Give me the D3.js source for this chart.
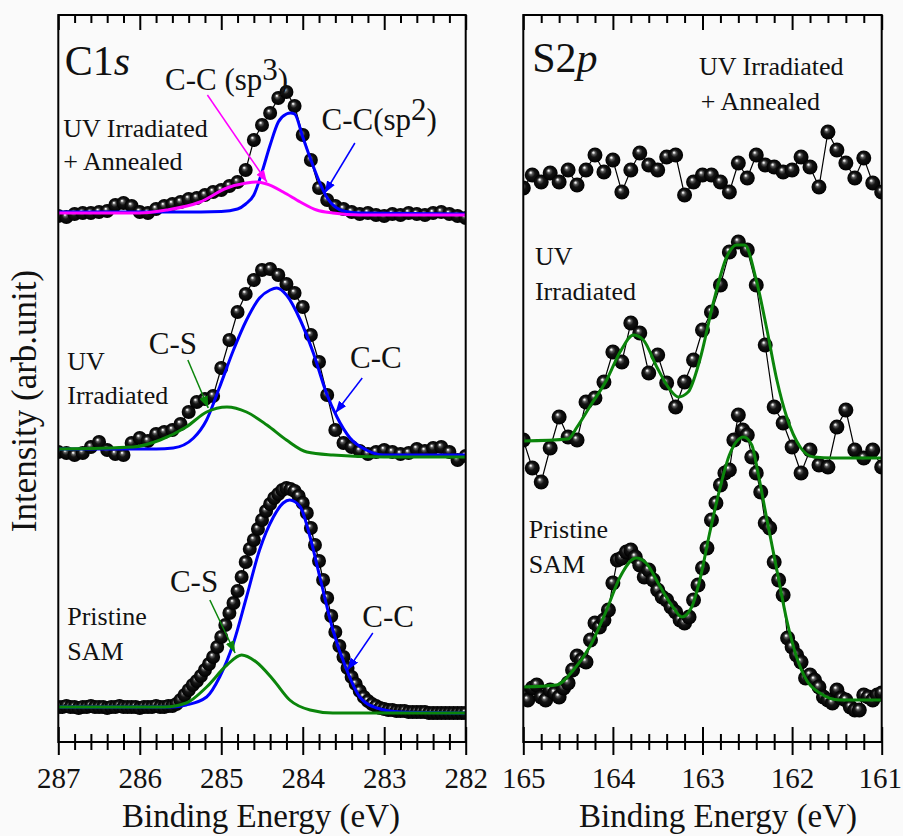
<!DOCTYPE html>
<html><head><meta charset="utf-8">
<script src="https://cdn.jsdelivr.net/npm/d3@7"></script>
<style>
html,body{margin:0;padding:0;background:#fafafa;}
svg{display:block;}
text{font-family:"Liberation Serif","Times New Roman",Times,serif;fill:#111;}
</style></head><body>
<svg id="chart" width="903" height="836"></svg>
<script>
// ---------- energy grids (eV) ----------
const c1sBECoarse = [287.0,286.9,286.8,286.7,286.6,286.5,286.4,286.3,286.2,286.1,286.0,285.9,285.8,285.7,285.6,285.5,285.4,285.3,285.2,285.1,285.0,284.9,284.8,284.7,284.6,284.5,284.4,284.3,284.2,284.1,284.0,283.9,283.8,283.7,283.6,283.5,283.4,283.3,283.2,283.1,283.0,282.9,282.8,282.7,282.6,282.5,282.4,282.3,282.2,282.1,282.0];
const c1sBEFine = [287.00,286.95,286.90,286.85,286.80,286.75,286.70,286.65,286.60,286.55,286.50,286.45,286.40,286.35,286.30,286.25,286.20,286.15,286.10,286.05,286.00,285.95,285.90,285.85,285.80,285.75,285.70,285.65,285.60,285.55,285.50,285.45,285.40,285.35,285.30,285.25,285.20,285.15,285.10,285.05,285.00,284.95,284.90,284.85,284.80,284.75,284.70,284.65,284.60,284.55,284.50,284.45,284.40,284.35,284.30,284.25,284.20,284.15,284.10,284.05,284.00,283.95,283.90,283.85,283.80,283.75,283.70,283.65,283.60,283.55,283.50,283.45,283.40,283.35,283.30,283.25,283.20,283.15,283.10,283.05,283.00,282.95,282.90,282.85,282.80,282.75,282.70,282.65,282.60,282.55,282.50,282.45,282.40,282.35,282.30,282.25,282.20,282.15,282.10,282.05,282.00];
const s2pBECoarse = [165.0,164.9,164.8,164.7,164.6,164.5,164.4,164.3,164.2,164.1,164.0,163.9,163.8,163.7,163.6,163.5,163.4,163.3,163.2,163.1,163.0,162.9,162.8,162.7,162.6,162.5,162.4,162.3,162.2,162.1,162.0,161.9,161.8,161.7,161.6,161.5,161.4,161.3,161.2,161.1,161.0];
const s2pBEFine = [165.00,164.95,164.90,164.85,164.80,164.75,164.70,164.65,164.60,164.55,164.50,164.45,164.40,164.35,164.30,164.25,164.20,164.15,164.10,164.05,164.00,163.95,163.90,163.85,163.80,163.75,163.70,163.65,163.60,163.55,163.50,163.45,163.40,163.35,163.30,163.25,163.20,163.15,163.10,163.05,163.00,162.95,162.90,162.85,162.80,162.75,162.70,162.65,162.60,162.55,162.50,162.45,162.40,162.35,162.30,162.25,162.20,162.15,162.10,162.05,162.00,161.95,161.90,161.85,161.80,161.75,161.70,161.65,161.60,161.55,161.50,161.45,161.40,161.35,161.30,161.25,161.20,161.15,161.10,161.05,161.00];

// ---------- C1s measured intensities (arb. unit, stacked) ----------
const c1sAnnealed = [52.6,52.5,52.8,52.9,52.9,53.0,53.1,53.7,53.9,53.6,
 53.0,52.9,53.3,53.6,53.8,54.0,54.3,54.4,54.7,55.0,
 55.2,55.6,56.0,57.2,60.2,61.7,62.9,64.4,65.0,63.6,
 60.7,58.2,55.4,54.2,53.6,53.3,53.0,52.8,52.9,52.7,
 52.6,52.8,52.7,52.9,52.8,52.7,52.9,53.0,52.8,52.6,
 52.4];
const c1sUV = [29.0,28.9,28.7,28.9,29.5,30.0,29.2,28.8,28.7,29.9,
 30.4,30.1,30.8,31.0,31.2,31.8,33.0,34.0,34.3,34.6,
 37.4,40.2,43.0,44.8,46.2,47.2,47.3,46.7,45.8,44.9,
 43.5,40.7,38.0,34.7,31.2,29.9,29.5,29.1,28.8,29.0,
 29.2,29.0,28.8,28.9,29.3,29.1,29.4,29.5,29.0,28.2,
 28.6];
const c1sPristine = [3.5,3.5,3.6,3.5,3.5,3.4,3.5,3.5,3.6,3.5,
 3.5,3.5,3.4,3.5,3.5,3.6,3.5,3.5,3.5,3.5,
 3.4,3.5,3.5,3.5,3.6,3.5,3.5,3.6,3.6,
 3.8,4.2,4.7,5.2,5.7,6.1,6.6,7.2,7.8,8.5,
 9.5,10.5,11.7,12.9,13.9,15.1,16.5,18.0,19.3,20.2,
 21.3,22.2,23.1,23.8,24.4,24.8,25.2,25.4,25.3,25.1,
 24.6,23.9,22.9,21.4,19.7,18.1,16.2,14.4,12.6,11.0,
 9.6,8.5,7.4,6.5,5.8,5.1,4.5,4.1,3.8,3.6,
 3.4,3.3,
 3.2,3.2,3.1,3.1,3.1,3.0,3.0,3.0,3.0,3.0,
 2.9,2.9,2.9,2.9,2.9,2.9,2.9,2.9,2.9,2.9];

// ---------- C1s fitted components [BE, intensity] ----------
const c1sAnnealedSp2 = [[287.0,53.0],[285.5,53.0],[285.0,53.05],[284.8,53.3],[284.7,53.8],[284.6,54.7],[284.5,57.0],[284.4,59.7],[284.3,62.0],[284.2,62.8],[284.15,62.9],[284.1,62.8],[284.0,60.5],[283.9,58.2],[283.8,56.1],[283.7,54.4],[283.6,53.5],[283.5,53.1],[283.3,52.9],[282.0,52.8]];
const c1sAnnealedSp3 = [[287.0,52.9],[286.0,52.9],[285.67,53.2],[285.26,54.0],[284.93,55.4],[284.69,55.9],[284.57,56.0],[284.44,55.8],[284.24,55.0],[284.03,54.0],[283.83,53.2],[283.63,52.9],[283.3,52.7],[282.0,52.7]];
const c1sUVCC = [[287.0,29.3],[285.8,29.3],[285.59,29.4],[285.34,30.4],[285.18,32.2],[285.02,35.5],[284.85,39.2],[284.69,42.2],[284.53,44.4],[284.40,45.2],[284.32,45.4],[284.20,44.7],[284.03,42.2],[283.87,38.9],[283.71,34.9],[283.58,32.5],[283.42,30.4],[283.22,29.2],[283.01,28.7],[282.0,28.7]];
const c1sUVCS = [[287.0,29.3],[286.08,29.5],[285.75,30.2],[285.43,31.5],[285.18,33.0],[284.93,33.5],[284.69,33.0],[284.44,31.7],[284.20,30.2],[283.95,29.0],[283.63,28.7],[283.0,28.5],[282.0,28.5]];
const c1sPristineCC = [[287.0,3.5],[285.6,3.5],[285.43,3.7],[285.18,4.5],[285.02,6.5],[284.85,9.9],[284.69,14.5],[284.53,19.2],[284.36,22.5],[284.24,23.9],[284.16,24.2],[284.03,23.5],[283.91,20.5],[283.79,16.5],[283.63,11.2],[283.46,7.2],[283.30,4.5],[283.09,3.4],[282.8,3.0],[282.0,2.9]];
const c1sPristineCS = [[287.0,3.5],[285.7,3.5],[285.43,3.9],[285.18,5.5],[284.93,7.7],[284.75,8.7],[284.57,8.0],[284.36,6.2],[284.16,4.2],[283.91,3.2],[283.63,2.9],[282.0,2.9]];

// ---------- S2p measured intensities ----------
const s2pAnnealed = [55.4,56.7,56.0,56.9,56.0,57.2,55.7,57.2,58.7,57.0,
 58.2,55.0,57.2,58.9,57.7,57.2,58.5,58.7,54.7,56.0,
 56.7,56.7,56.0,55.0,57.9,56.4,58.7,57.7,57.5,57.0,
 57.2,58.5,57.5,55.5,61.0,59.2,57.9,56.4,58.4,55.9,
 55.0];
const s2pUV = [30.2,27.4,26.0,29.4,32.5,30.5,30.2,34.0,34.4,36.0,
 39.0,38.0,41.9,40.9,36.9,38.7,35.9,33.5,36.0,38.2,
 41.2,43.0,45.7,49.0,50.0,49.2,45.7,39.7,33.5,31.9,
 29.5,26.9,29.2,27.7,27.5,31.5,33.2,29.2,28.4,29.2,
 27.5];
const s2pPristine = [4.7,4.2,5.4,5.7,4.5,4.2,5.2,4.9,4.5,5.4,
 5.9,7.2,8.6,8.2,8.0,10.2,11.9,11.5,12.2,13.2,
 15.9,18.2,18.4,19.0,19.2,18.5,17.7,16.5,17.2,16.2,
 15.2,14.5,14.2,13.5,13.0,12.2,11.9,12.5,14.2,15.7,
 17.4,19.4,22.2,23.9,25.7,26.9,27.2,30.2,32.7,31.2,
 30.7,28.5,26.9,25.0,21.9,21.4,18.0,16.2,14.7,10.4,
 9.5,8.7,8.0,6.4,6.7,6.2,5.5,4.5,4.2,3.9,
 5.2,4.4,4.2,3.5,3.2,3.2,4.7,4.5,4.2,4.7,
 4.9];
const s2pUVFit = [[165.0,30.1],[164.5,30.3],[164.4,31.5],[164.26,33.5],[164.07,36.2],[163.92,39.0],[163.77,40.7],[163.66,40.2],[163.51,37.5],[163.36,35.2],[163.27,34.5],[163.16,35.0],[163.03,38.2],[162.88,43.9],[162.73,48.5],[162.62,49.7],[162.53,49.7],[162.40,46.2],[162.28,41.2],[162.17,36.2],[162.06,32.5],[161.91,29.5],[161.76,28.5],[161.54,28.4],[161.0,28.4]];
const s2pPristineFit = [[165.0,5.5],[164.63,5.7],[164.44,7.2],[164.26,9.5],[164.07,13.2],[163.92,16.5],[163.74,18.4],[163.63,17.9],[163.47,15.5],[163.33,13.5],[163.23,12.5],[163.12,13.5],[163.03,16.2],[162.92,20.9],[162.81,25.2],[162.70,28.7],[162.54,30.5],[162.45,29.7],[162.38,26.9],[162.28,22.2],[162.17,17.2],[162.06,12.2],[161.95,8.5],[161.84,6.2],[161.69,4.9],[161.47,4.2],[161.0,4.2]];

// ---------- ticks ----------
const c1sTicks = [287,286,285,284,283,282];
const s2pTicks = [165,164,163,162,161];
const minorStep = 0.2;

// ---------- text ----------
const xTitle = "Binding Energy (eV)";
const yTitle = "Intensity (arb.unit)";

const BLUE = "#0000ff", GREEN = "#0b850b", MAGENTA = "#ff00ff";

const svg = d3.select("#chart");
const plotTop = 15, plotBottom = 742;
const y = d3.scaleLinear().domain([0, 72.7]).range([plotBottom, plotTop]);
const xL = d3.scaleLinear().domain([287, 282]).range([58.3, 465.7]);
const xR = d3.scaleLinear().domain([165, 161]).range([523.3, 881.7]);

const defs = svg.append("defs");
const grad = defs.append("radialGradient").attr("id", "ball")
  .attr("cx", "50%").attr("cy", "50%").attr("r", "50%").attr("fx", "38%").attr("fy", "32%");
[[0, "#ffffff"], [0.09, "#e4e4e4"], [0.24, "#5c5c5c"], [0.48, "#141414"], [1, "#000000"]]
  .forEach(([o, c]) => grad.append("stop").attr("offset", o).attr("stop-color", c));
[["mBlue", BLUE], ["mGreen", GREEN], ["mMag", MAGENTA]].forEach(([id, c]) => {
  defs.append("marker").attr("id", id).attr("markerUnits", "userSpaceOnUse")
    .attr("markerWidth", 14).attr("markerHeight", 10).attr("refX", 12).attr("refY", 4.5)
    .attr("orient", "auto").append("path").attr("d", "M0,0L12,4.5L0,9Z").attr("fill", c);
});
function clipFor(id, x) {
  const r = x.range();
  defs.append("clipPath").attr("id", id).append("rect")
    .attr("x", r[0]).attr("y", plotTop).attr("width", r[1] - r[0]).attr("height", plotBottom - plotTop);
}
clipFor("clipL", xL); clipFor("clipR", xR);

function spectrum(g, x, be, vals, r) {
  const pts = be.map((b, i) => [b, vals[i]]);
  g.append("path").datum(pts)
    .attr("d", d3.line().x(d => x(d[0])).y(d => y(d[1])))
    .attr("fill", "none").attr("stroke", "#000").attr("stroke-width", 1.2);
  g.append("g").selectAll("circle").data(pts).join("circle")
    .attr("cx", d => x(d[0])).attr("cy", d => y(d[1])).attr("r", r).attr("fill", "url(#ball)");
}
function fit(g, x, pts, color) {
  g.append("path").datum(pts)
    .attr("d", d3.line().curve(d3.curveMonotoneX).x(d => x(d[0])).y(d => y(d[1])))
    .attr("fill", "none").attr("stroke", color).attr("stroke-width", 3);
}

// ----- Left panel (C1s) -----
const gL = svg.append("g").attr("clip-path", "url(#clipL)");
spectrum(gL, xL, c1sBEFine, c1sPristine, 7);
spectrum(gL, xL, c1sBECoarse, c1sUV, 7);
spectrum(gL, xL, c1sBECoarse, c1sAnnealed, 7);
fit(gL, xL, c1sPristineCC, BLUE);
fit(gL, xL, c1sPristineCS, GREEN);
fit(gL, xL, c1sUVCC, BLUE);
fit(gL, xL, c1sUVCS, GREEN);
fit(gL, xL, c1sAnnealedSp2, BLUE);
fit(gL, xL, c1sAnnealedSp3, MAGENTA);

// ----- Right panel (S2p) -----
const gR = svg.append("g").attr("clip-path", "url(#clipR)");
spectrum(gR, xR, s2pBEFine, s2pPristine, 7.5);
spectrum(gR, xR, s2pBECoarse, s2pUV, 7.5);
spectrum(gR, xR, s2pBECoarse, s2pAnnealed, 7.5);
fit(gR, xR, s2pPristineFit, GREEN);
fit(gR, xR, s2pUVFit, GREEN);

// ----- frames and axes -----
function frameAxes(x, major, titleX) {
  const r = x.range(), d = x.domain();
  const n = Math.round((d[0] - d[1]) / minorStep);
  const minorOnly = d3.range(n + 1).map(i => +(d[0] - i * minorStep).toFixed(2))
    .filter(v => Math.abs(v - Math.round(v)) > 1e-6);
  const mk = (axis, ty, vals, size, labels) => {
    const g = svg.append("g").attr("transform", `translate(0,${ty})`)
      .call(axis(x).tickValues(vals).tickSize(size).tickPadding(12)
        .tickFormat(labels ? d3.format("d") : () => ""));
    g.select(".domain").remove();
    g.selectAll("line").attr("stroke", "#000").attr("stroke-width", 2);
    g.attr("font-size", null).attr("font-family", null);
    g.selectAll("text").attr("font-size", "29px").attr("fill", "#111");
    return g;
  };
  const lab = mk(d3.axisBottom, plotBottom, major, 13, true);
  lab.selectAll("text").filter(v => v === 161).attr("dx", -2);
  mk(d3.axisTop, plotBottom, major, 15, false);
  mk(d3.axisBottom, plotBottom, minorOnly, 8, false);
  mk(d3.axisTop, plotBottom, minorOnly, 8, false);
  mk(d3.axisBottom, plotTop, major, 15, false);
  mk(d3.axisBottom, plotTop, minorOnly, 8, false);
  svg.append("rect").attr("x", r[0]).attr("y", plotTop).attr("width", r[1] - r[0]).attr("height", plotBottom - plotTop)
    .attr("fill", "none").attr("stroke", "#000").attr("stroke-width", 2);
  svg.append("text").attr("x", titleX).attr("y", 827).attr("text-anchor", "middle")
    .attr("font-size", "33px").text(xTitle);
}
frameAxes(xL, c1sTicks, 261);
frameAxes(xR, s2pTicks, 718);

svg.append("text").attr("transform", "translate(36,401) rotate(-90)")
  .attr("text-anchor", "middle").attr("font-size", "35px").text(yTitle);

// ----- annotations -----
function note(x, be, i, size, parts) {
  const t = svg.append("text").attr("x", x(be)).attr("y", y(i)).attr("font-size", size + "px");
  parts.forEach(p => {
    const s = t.append("tspan").text(p.t);
    if (p.it) s.attr("font-style", "italic");
    if (p.dy) s.attr("dy", p.dy);
  });
}
const c1sNotes = [
  [286.92, 66.7, 42, [{t: "C1"}, {t: "s", it: true}]],
  [285.69, 65.2, 31, [{t: "C-C (sp"}, {t: "3", dy: -10}, {t: ")", dy: 10}]],
  [283.77, 61.2, 31, [{t: "C-C(sp"}, {t: "2", dy: -10}, {t: ")", dy: 10}]],
  [286.94, 60.5, 26, [{t: "UV Irradiated"}]],
  [286.94, 57.2, 26, [{t: "+ Annealed"}]],
  [286.89, 37.2, 26, [{t: "UV"}]],
  [286.89, 33.8, 26, [{t: "Irradiated"}]],
  [285.89, 38.8, 31, [{t: "C-S"}]],
  [283.42, 37.4, 31, [{t: "C-C"}]],
  [286.89, 11.7, 26, [{t: "Pristine"}]],
  [286.89, 8.2, 26, [{t: "SAM"}]],
  [285.63, 15.0, 31, [{t: "C-S"}]],
  [283.27, 11.5, 31, [{t: "C-C"}]]
];
c1sNotes.forEach(n => note(xL, n[0], n[1], n[2], n[3]));
const s2pNotes = [
  [164.90, 67.0, 42, [{t: "S2"}, {t: "p", it: true}]],
  [163.04, 66.7, 26, [{t: "UV Irradiated"}]],
  [163.02, 63.2, 26, [{t: "+ Annealed"}]],
  [164.87, 47.7, 26, [{t: "UV"}]],
  [164.87, 44.2, 26, [{t: "Irradiated"}]],
  [164.94, 20.4, 26, [{t: "Pristine"}]],
  [164.94, 16.9, 26, [{t: "SAM"}]]
];
s2pNotes.forEach(n => note(xR, n[0], n[1], n[2], n[3]));

const c1sArrows = [
  [[285.17, 64.7], [284.44, 56.0], MAGENTA, "mMag"],
  [[283.36, 59.9], [283.73, 54.9], BLUE, "mBlue"],
  [[285.41, 38.2], [285.16, 33.4], GREEN, "mGreen"],
  [[283.27, 36.4], [283.60, 32.9], BLUE, "mBlue"],
  [[285.14, 14.2], [284.83, 8.9], GREEN, "mGreen"],
  [[283.14, 10.9], [283.45, 7.2], BLUE, "mBlue"]
];
c1sArrows.forEach(([a, b, c, m]) => {
  svg.append("line").attr("x1", xL(a[0])).attr("y1", y(a[1])).attr("x2", xL(b[0])).attr("y2", y(b[1]))
    .attr("stroke", c).attr("stroke-width", 1.5).attr("marker-end", `url(#${m})`);
});
</script>
</body></html>
